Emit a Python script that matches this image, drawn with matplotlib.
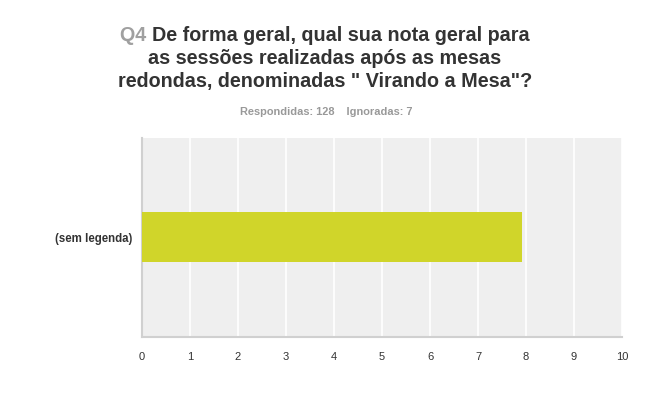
import matplotlib
matplotlib.use("Agg")
import matplotlib.pyplot as plt

categories = ["(sem legenda)"]
values = [7.91]
xticks = list(range(0, 11))
question_tag = "Q4"
title_lines = ["De forma geral, qual sua nota geral para",
               "as sessões realizadas após as mesas",
               "redondas, denominadas \" Virando a Mesa\"?"]
subtitle = "Respondidas: 128    Ignoradas: 7"

plt.rcParams['font.family'] = ['Liberation Sans', 'DejaVu Sans']

W, H = 650, 411
fig = plt.figure(figsize=(W / 100, H / 100), dpi=100)
ax = fig.add_axes([142 / W, 1 - 337 / H, (622 - 142) / W, (337 - 137.7) / H])
ax.set_facecolor('#efefef')
ax.barh([0], values, height=0.5, color='#d0d52a', zorder=3)
ax.set_xlim(0, 10)
ax.set_ylim(-1, 1)
ax.set_xticks(xticks)
ax.set_xticklabels([str(t) for t in xticks], fontsize=8, color='#333333')
ax.set_yticks([0])
ax.set_yticklabels(categories, fontsize=8.3, fontweight='bold', color='#333333')
ax.tick_params(axis='both', length=0)
ax.tick_params(axis='x', pad=11)
ax.tick_params(axis='y', pad=7)
ax.grid(axis='x', color='white', linewidth=1.2, zorder=1)
for s in ['top', 'right']:
    ax.spines[s].set_visible(False)
for s in ['left', 'bottom']:
    ax.spines[s].set_color('#d0d0d0')
    ax.spines[s].set_linewidth(1.5)

# Title
fs = 14.2
fig.canvas.draw()
r = fig.canvas.get_renderer()
cx = 325 / W
t_tag = fig.text(0, 1 - 41 / H, question_tag + " ", fontsize=fs, fontweight='bold', color='#a0a0a0', ha='left', va='baseline')
t_main = fig.text(0, 1 - 41 / H, title_lines[0], fontsize=fs, fontweight='bold', color='#333333', ha='left', va='baseline')
w1 = t_tag.get_window_extent(r).width
w2 = t_main.get_window_extent(r).width
x0 = cx * W - (w1 + w2) / 2
t_tag.set_x(x0 / W)
t_main.set_x((x0 + w1) / W)
for i, line in enumerate(title_lines[1:]):
    fig.text(cx, 1 - (41 + 23 * (i + 1)) / H, line, fontsize=fs, fontweight='bold',
             color='#333333', ha='center', va='baseline')

fig.text(326.7 / W, 1 - 115 / H, subtitle, fontsize=7.9, fontweight='bold', color='#999999',
         ha='center', va='baseline')

fig.savefig('out.png', dpi=100)
